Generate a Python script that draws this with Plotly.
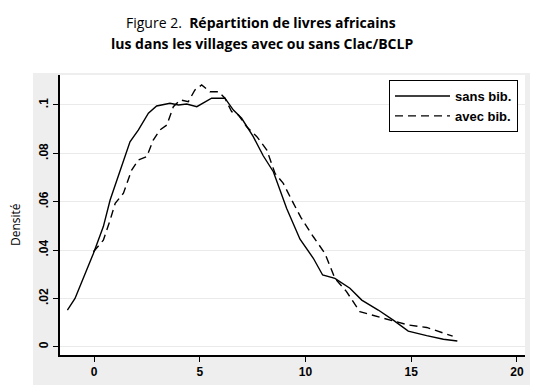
import plotly.graph_objects as go

# Data
sans_x = [-1.26, -0.9, -0.03, 0.44, 0.76, 1.31, 1.70, 2.10, 2.57, 2.96, 3.59, 3.99, 4.38, 4.86, 5.17, 5.56, 6.19, 6.59, 6.98, 7.53, 8.0, 8.48, 9.11, 9.74, 10.37, 10.81, 11.39, 12.10, 12.66, 13.44, 14.15, 14.86, 15.73, 16.52, 17.18]
sans_y = [0.0152, 0.0200, 0.0386, 0.0497, 0.0607, 0.0745, 0.0848, 0.0897, 0.0966, 0.0996, 0.1007, 0.1000, 0.1004, 0.0993, 0.1007, 0.1028, 0.1028, 0.0979, 0.0945, 0.0869, 0.0790, 0.0724, 0.0572, 0.0445, 0.0366, 0.0297, 0.0283, 0.0242, 0.0193, 0.0152, 0.0110, 0.0065, 0.0046, 0.0031, 0.0024]

avec_x = [-0.03, 0.44, 0.76, 1.0, 1.39, 1.78, 2.10, 2.49, 2.80, 3.12, 3.44, 3.75, 4.07, 4.46, 4.77, 5.09, 5.48, 5.88, 6.19, 6.51, 6.82, 7.22, 7.70, 8.17, 8.56, 8.95, 9.43, 9.78, 10.37, 10.92, 11.39, 11.94, 12.57, 13.28, 14.15, 14.86, 15.73, 16.44, 16.96]
avec_y = [0.0393, 0.0441, 0.0524, 0.0593, 0.0635, 0.0731, 0.0773, 0.0786, 0.0855, 0.0897, 0.0917, 0.0993, 0.1021, 0.1014, 0.1062, 0.1083, 0.1055, 0.1055, 0.1028, 0.0972, 0.0959, 0.0910, 0.0869, 0.0814, 0.0717, 0.0676, 0.0593, 0.0535, 0.0455, 0.0386, 0.0283, 0.0228, 0.0145, 0.0128, 0.0108, 0.0090, 0.0080, 0.0058, 0.0044]

x_ticks = [0, 5, 10, 15, 20]
y_ticks = [0, 0.02, 0.04, 0.06, 0.08, 0.1]
y_tick_labels = ["0", ".02", ".04", ".06", ".08", ".1"]

series_names = ["sans bib.", "avec bib."]
title_line1 = "Figure 2.  <b>Répartition de livres africains</b>"
title_line2 = "<b>lus dans les villages avec ou sans Clac/BCLP</b>"
y_title = "Densité"

fig = go.Figure()
fig.add_trace(go.Scatter(x=sans_x, y=sans_y, mode="lines", name=series_names[0],
                         line=dict(color="black", width=1.4)))
fig.add_trace(go.Scatter(x=avec_x, y=avec_y, mode="lines", name=series_names[1],
                         line=dict(color="black", width=1.4, dash="8px,5px")))

tick_font = dict(family="Liberation Sans, Arial, sans-serif", size=12, color="black", weight="bold")

W, H = 539, 392
L, R, T, B = 60, 14, 75, 37
pw, ph = W - L - R, H - T - B


def px_x(x):
    return (x - L) / pw


def px_y(y):
    return (H - B - y) / ph


fig.update_layout(
    width=W, height=H,
    margin=dict(l=L, r=R, t=T, b=B, autoexpand=False),
    paper_bgcolor="white",
    plot_bgcolor="rgba(0,0,0,0)",
    showlegend=True,
    legend=dict(x=px_x(518), y=px_y(80), xanchor="right", yanchor="top",
                bgcolor="white", bordercolor="black", borderwidth=1,
                font=dict(family="Liberation Sans, Arial, sans-serif", size=13, color="black", weight="bold"),
                tracegroupgap=0, itemwidth=55),
    xaxis=dict(range=[-1.61, 20.38], tickvals=x_ticks, ticks="outside", ticklen=5,
               tickwidth=1.2, tickcolor="black", showgrid=False, zeroline=False,
               showline=True, linecolor="black", linewidth=1.5, tickfont=tick_font),
    yaxis=dict(range=[-0.0034, 0.1124], tickvals=y_ticks, ticktext=y_tick_labels,
               ticks="outside", ticklen=5, tickwidth=1.2, tickcolor="black",
               tickangle=-90, showgrid=True, gridcolor="#eaeaea", gridwidth=1,
               zeroline=False, showline=True, linecolor="black", linewidth=1.5,
               tickfont=tick_font),
    shapes=[
        dict(type="rect", xref="paper", yref="paper", x0=px_x(33), x1=px_x(530), y0=px_y(385), y1=px_y(73),
             fillcolor="#eeeeee", line=dict(width=0), layer="below"),
        dict(type="rect", xref="paper", yref="paper", x0=0, x1=1, y0=0, y1=1,
             fillcolor="white", line=dict(width=0), layer="below"),
    ],
    annotations=[
        dict(text=title_line1, xref="paper", yref="paper",
             x=px_x(261), y=px_y(22), xanchor="center", yanchor="middle",
             showarrow=False, font=dict(family="Open Sans, Noto Sans, sans-serif", size=14, color="black")),
        dict(text=title_line2, xref="paper", yref="paper",
             x=px_x(262), y=px_y(44), xanchor="center", yanchor="middle",
             showarrow=False, font=dict(family="Open Sans, Noto Sans, sans-serif", size=14, color="black")),
        dict(text=y_title, xref="paper", yref="paper", x=px_x(15), y=px_y(225),
             xanchor="center", yanchor="middle", textangle=-90, showarrow=False,
             font=dict(family="Open Sans, Noto Sans, sans-serif", size=12, color="black")),
    ],
)

fig.write_html("out.html", config={"displayModeBar": False},
               post_script="document.body.style.margin='0';")
